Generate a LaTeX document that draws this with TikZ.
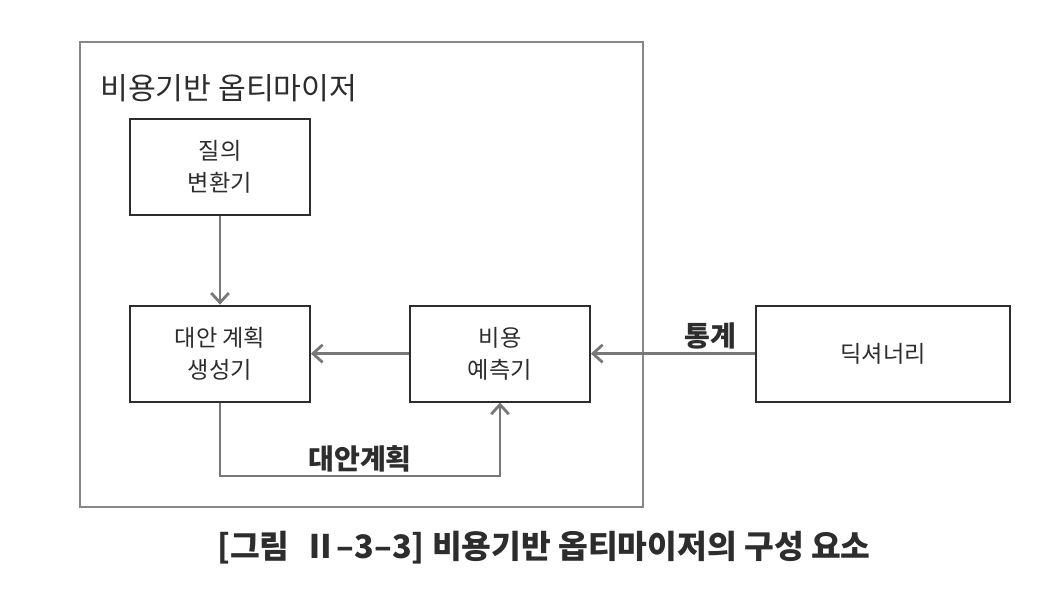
\documentclass[tikz,border=0pt]{standalone}
\usepackage{fontspec}
\setmainfont{Noto Sans CJK KR}
\usepackage{tikz}
\usetikzlibrary{arrows.meta,positioning}
\definecolor{ink}{RGB}{45,45,45}
\definecolor{arrgray}{RGB}{120,120,120}
\definecolor{framegray}{RGB}{135,135,135}
\tikzset{
  comp/.style={draw=ink,line width=1.3pt,align=center,text=ink,font=\fontsize{16.5}{23}\selectfont,minimum width=45mm,minimum height=24mm,inner sep=2pt},
  arr/.style={-{Straight Barb[length=2.4mm,width=4.4mm]},draw=arrgray,line width=2pt},
  lbl/.style={font=\fontsize{20}{22}\selectfont\bfseries,text=ink,inner sep=2pt}
}

\begin{document}
\begin{tikzpicture}
\useasboundingbox (0,0) rectangle (26.5,-14.85);
\draw[framegray,line width=1pt] (2,-1.05) rectangle (16.075,-12.675);
\node[anchor=west,text=ink,font=\fontsize{21.5}{24}\selectfont,inner sep=0] (ttl) at (2.5,-2.2) {비용기반 옵티마이저};
\node[comp] (qt) at (5.5,-4.175) {질의\\변환기};
\node[comp] (gen) at (5.5,-8.84) {대안 계획\\생성기};
\node[comp] (cost) at (12.5,-8.84) {비용\\예측기};
\node[comp,minimum width=63.5mm] (dict) at (22.075,-8.84) {딕셔너리};
\coordinate (lp) at (5.5,-11.9);
\draw[arr] (qt) -- (gen);
\draw[arr] (cost) -- (gen);
\draw[arr] (dict) -- node[lbl,pos=0.27,above]{통계} (cost);
\draw[arr] (gen.south) -- (lp) -| node[lbl,pos=0.25,above]{대안계획} (cost.south);
\node[text=ink,font=\fontsize{23}{26}\selectfont\bfseries] (cap) at (13.6,-13.7) {[그림\ \ Ⅱ–3–3] 비용기반 옵티마이저의 구성 요소};
\end{tikzpicture}
\end{document}
